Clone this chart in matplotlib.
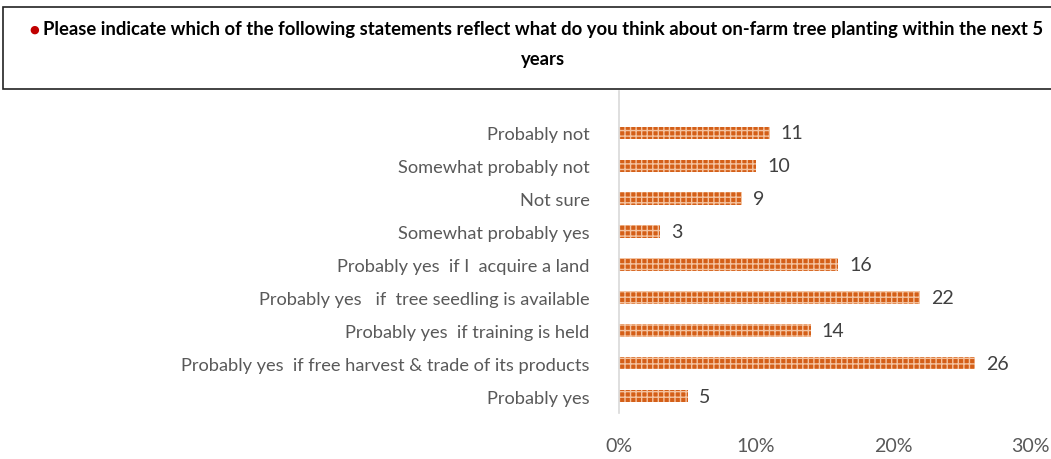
import numpy as np
import matplotlib.pyplot as plt
from matplotlib.patches import Rectangle

# データ（上から順）
categories = [
    'Probably not',
    'Somewhat probably not',
    'Not sure',
    'Somewhat probably yes',
    'Probably yes  if I  acquire a land',
    'Probably yes   if  tree seedling is available',
    'Probably yes  if training is held',
    'Probably yes  if free harvest & trade of its products',
    'Probably yes',
]
values = [11, 10, 9, 3, 16, 22, 14, 26, 5]
x_ticks = [0, 10, 20, 30]
x_ticklabels = ['0%', '10%', '20%', '30%']
title_1 = 'Please indicate which of the following statements reflect what do you think about on-farm tree planting within the next 5'
title_2 = 'years'

W, H = 1051, 460
FONT = ['Lato', 'DejaVu Sans']
plt.rcParams['font.family'] = FONT
plt.rcParams['hatch.linewidth'] = 1.0

fig = plt.figure(figsize=(W / 100, H / 100), dpi=100)
renderer = fig.canvas.get_renderer()


def fit_size(text, width_px, weight='normal', base=12):
    """指定ピクセル幅に合うフォントサイズを返す"""
    t = fig.text(0, 0, text, fontsize=base, fontweight=weight)
    w = t.get_window_extent(renderer).width
    t.remove()
    return base * width_px / w


# 軸位置（ピクセル→比率）
x0, x1 = 619, 1030
y_top, y_bot = 92, 413.5
ax = fig.add_axes([x0 / W, 1 - y_bot / H, (x1 - x0) / W, (y_bot - y_top) / H])

lab_size = fit_size(categories[7], 409)

n = len(categories)
ypos = np.arange(n)[::-1]
ax.barh(ypos, values, height=0.38, color='#D45F18', edgecolor='#F4C3A0',
        hatch='+++', linewidth=0)

for yy, v in zip(ypos, values):
    ax.text(v + 0.8, yy, str(v), va='center', ha='left', fontsize=lab_size + 1,
            color='#404040')

ax.set_xlim(0, 30)
ax.set_ylim(-0.5, n - 0.5 + 25.5 / 33)
ax.set_yticks(ypos)
ax.set_yticklabels(categories, fontsize=lab_size, color='#595959')
ax.set_xticks(x_ticks)
ax.set_xticklabels(x_ticklabels, fontsize=lab_size + 1, color='#595959')
ax.tick_params(axis='y', length=0, pad=21)
ax.tick_params(axis='x', length=0, pad=18)
for s in ['top', 'right', 'bottom']:
    ax.spines[s].set_visible(False)
ax.spines['left'].set_color('#D9D9D9')
ax.spines['left'].set_linewidth(1.2)

# タイトル枠
fig.patches.append(Rectangle((3 / W, 1 - 90 / H), 1.2, 82 / H, transform=fig.transFigure,
                             facecolor='white', edgecolor='#222222', linewidth=1.2))
t_size = fit_size(title_1, 995, weight='bold')
t1 = fig.text(543 / W, 1 - 30 / H, title_1, ha='center', va='center', fontsize=t_size,
              fontweight='bold', color='black')
fig.text(543 / W, 1 - 60 / H, title_2, ha='center', va='center', fontsize=t_size,
         fontweight='bold', color='black')
left_px = t1.get_window_extent(renderer).x0
fig.text((left_px - 9) / W, 1 - 30 / H, '\u25cf', ha='center', va='center', fontsize=8,
         color='#C00000', family='DejaVu Sans')

fig.savefig('out.png', dpi=100)
